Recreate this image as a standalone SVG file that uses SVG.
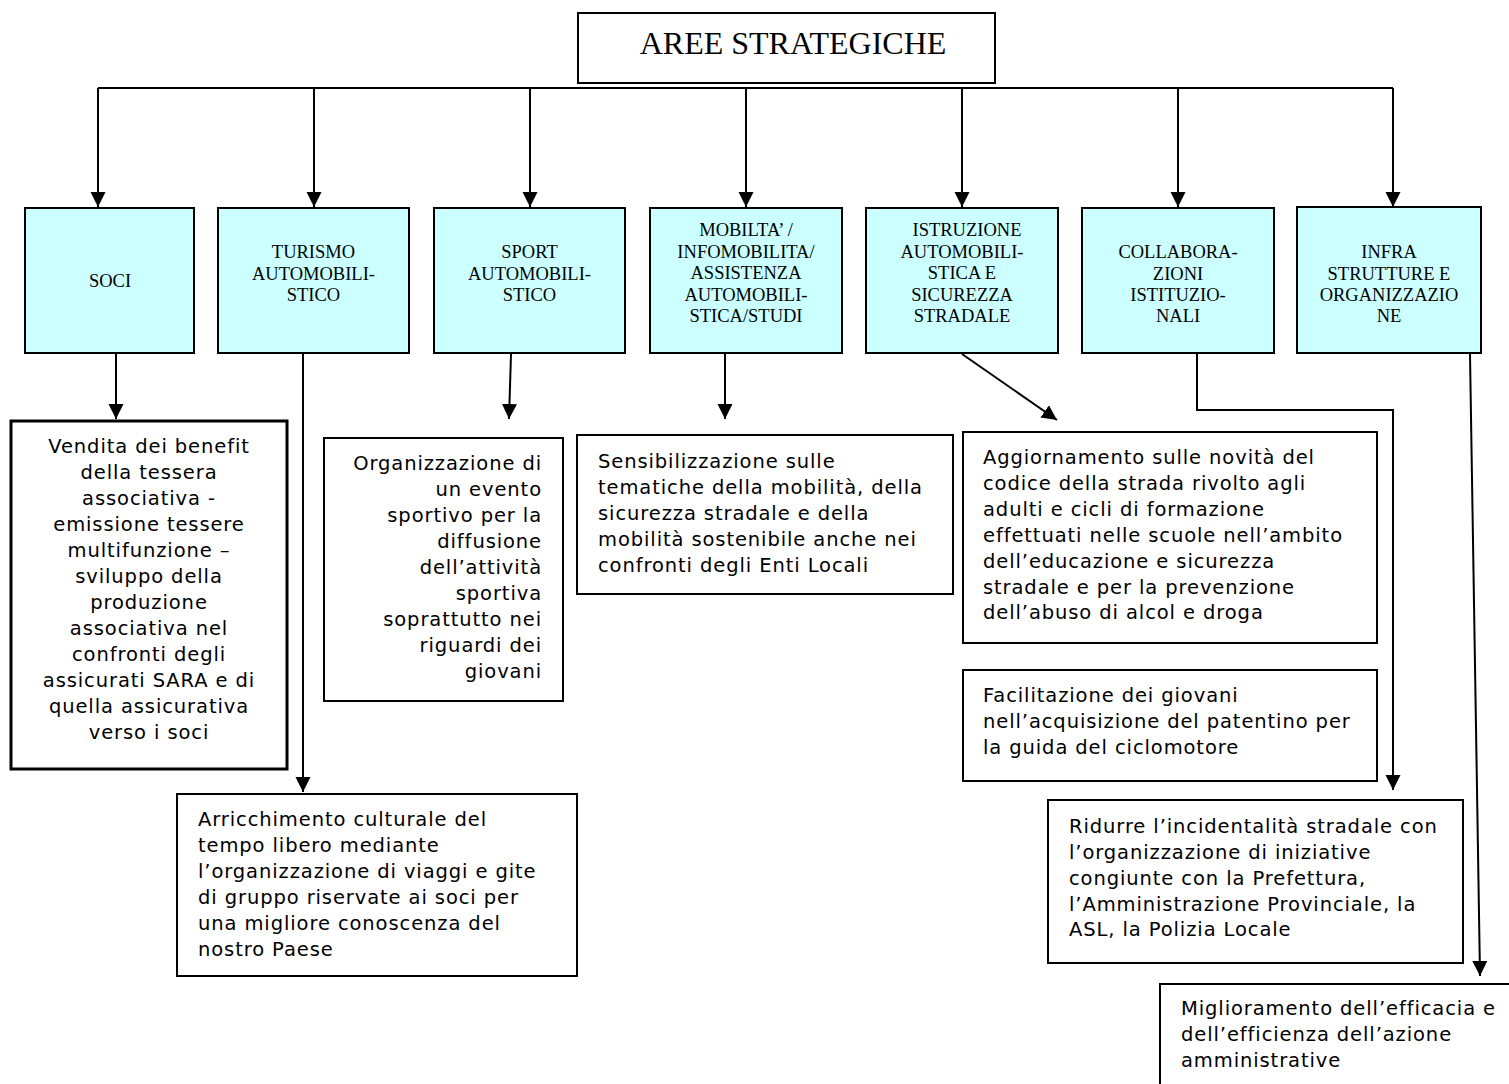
<svg xmlns="http://www.w3.org/2000/svg" width="1509" height="1084" viewBox="0 0 1509 1084">
<style>
.bg{fill:#ffffff}
.cat rect{fill:#ccffff;stroke:#000;stroke-width:2}
.cat text{font-family:"Liberation Serif","Times New Roman",serif;font-size:18.5px;fill:#000;text-anchor:middle}
.det rect{fill:#ffffff;stroke:#000;stroke-width:2}
.det text{font-family:"DejaVu Sans",Verdana,sans-serif;font-size:19.5px;letter-spacing:0.9px;fill:#000}
.top rect{fill:#ffffff;stroke:#000;stroke-width:2}
.top text{font-family:"Liberation Serif","Times New Roman",serif;font-size:32px;fill:#000;text-anchor:middle}
.conn{fill:none;stroke:#000;stroke-width:2}
</style>
<defs>
<marker id="ah" markerUnits="userSpaceOnUse" markerWidth="16" markerHeight="16" refX="15" refY="7.5" orient="auto">
<path d="M0,0 L15,7.5 L0,15 z" fill="#000"/>
</marker>
</defs>
<rect class="bg" x="0" y="0" width="1509" height="1084"/>

<g id="connectors" class="conn">
<line x1="98" y1="88" x2="1393" y2="88"/>
<line x1="98" y1="88" x2="98" y2="207" marker-end="url(#ah)"/>
<line x1="314" y1="88" x2="314" y2="207" marker-end="url(#ah)"/>
<line x1="530" y1="88" x2="530" y2="207" marker-end="url(#ah)"/>
<line x1="746" y1="88" x2="746" y2="207" marker-end="url(#ah)"/>
<line x1="962" y1="88" x2="962" y2="207" marker-end="url(#ah)"/>
<line x1="1178" y1="88" x2="1178" y2="207" marker-end="url(#ah)"/>
<line x1="1393" y1="88" x2="1393" y2="207" marker-end="url(#ah)"/>
<line x1="116" y1="354" x2="116" y2="419" marker-end="url(#ah)"/>
<line x1="303" y1="354" x2="303" y2="792" marker-end="url(#ah)"/>
<line x1="511" y1="354" x2="509" y2="419" marker-end="url(#ah)"/>
<line x1="725" y1="354" x2="725" y2="419" marker-end="url(#ah)"/>
<line x1="962" y1="354" x2="1057" y2="420" marker-end="url(#ah)"/>
<polyline points="1197,354 1197,410 1393,410 1393,790" marker-end="url(#ah)"/>
<line x1="1470" y1="354" x2="1480" y2="976" marker-end="url(#ah)"/>
</g>

<g id="aree-strategiche" class="top">
<rect x="578" y="13" width="417" height="70"/>
<text x="793" y="54">AREE STRATEGICHE</text>
</g>

<g id="soci" class="cat">
<rect x="25" y="208" width="169" height="145"/>
<text x="110" y="287">SOCI</text>
</g>
<g id="turismo" class="cat">
<rect x="218" y="208" width="191" height="145"/>
<text x="313.5" y="258">TURISMO</text>
<text x="313.5" y="279.5">AUTOMOBILI-</text>
<text x="313.5" y="301">STICO</text>
</g>
<g id="sport" class="cat">
<rect x="434" y="208" width="191" height="145"/>
<text x="529.5" y="258">SPORT</text>
<text x="529.5" y="279.5">AUTOMOBILI-</text>
<text x="529.5" y="301">STICO</text>
</g>
<g id="mobilita" class="cat">
<rect x="650" y="208" width="192" height="145"/>
<text x="746" y="236">MOBILTA’ /</text>
<text x="746" y="257.5">INFOMOBILITA/</text>
<text x="746" y="279">ASSISTENZA</text>
<text x="746" y="300.5">AUTOMOBILI-</text>
<text x="746" y="322">STICA/STUDI</text>
</g>
<g id="istruzione" class="cat">
<rect x="866" y="208" width="192" height="145"/>
<text x="967" y="236">ISTRUZIONE</text>
<text x="962" y="257.5">AUTOMOBILI-</text>
<text x="962" y="279">STICA E</text>
<text x="962" y="300.5">SICUREZZA</text>
<text x="962" y="322">STRADALE</text>
</g>
<g id="collaborazioni" class="cat">
<rect x="1082" y="208" width="192" height="145"/>
<text x="1178" y="258">COLLABORA-</text>
<text x="1178" y="279.5">ZIONI</text>
<text x="1178" y="301">ISTITUZIO-</text>
<text x="1178" y="322">NALI</text>
</g>
<g id="infrastrutture" class="cat">
<rect x="1297" y="207" width="184" height="146"/>
<text x="1389" y="258">INFRA</text>
<text x="1389" y="279.5">STRUTTURE  E</text>
<text x="1389" y="301">ORGANIZZAZIO</text>
<text x="1389" y="322">NE</text>
</g>

<g id="det-soci" class="det">
<rect x="11" y="421" width="276" height="348" style="stroke-width:3"/>
<g text-anchor="middle">
<text x="149" y="453">Vendita dei benefit</text>
<text x="149" y="479">della tessera</text>
<text x="149" y="505">associativa -</text>
<text x="149" y="531">emissione tessere</text>
<text x="149" y="557">multifunzione –</text>
<text x="149" y="583">sviluppo della</text>
<text x="149" y="609">produzione</text>
<text x="149" y="635">associativa nel</text>
<text x="149" y="661">confronti degli</text>
<text x="149" y="687">assicurati SARA e di</text>
<text x="149" y="713">quella assicurativa</text>
<text x="149" y="739">verso i soci</text>
</g>
</g>

<g id="det-sport" class="det">
<rect x="324" y="438" width="239" height="263"/>
<g text-anchor="end">
<text x="542" y="470">Organizzazione di</text>
<text x="542" y="496">un evento</text>
<text x="542" y="522">sportivo per la</text>
<text x="542" y="548">diffusione</text>
<text x="542" y="574">dell’attività</text>
<text x="542" y="600">sportiva</text>
<text x="542" y="626">soprattutto nei</text>
<text x="542" y="652">riguardi dei</text>
<text x="542" y="678">giovani</text>
</g>
</g>

<g id="det-mobilita" class="det">
<rect x="577" y="435" width="376" height="159"/>
<text x="598" y="468">Sensibilizzazione sulle</text>
<text x="598" y="494">tematiche della mobilità, della</text>
<text x="598" y="520">sicurezza stradale e della</text>
<text x="598" y="546">mobilità sostenibile anche nei</text>
<text x="598" y="572">confronti degli Enti Locali</text>
</g>

<g id="det-istruzione-1" class="det">
<rect x="963" y="432" width="414" height="211"/>
<text x="983" y="464">Aggiornamento sulle novità del</text>
<text x="983" y="490">codice della strada rivolto agli</text>
<text x="983" y="516">adulti e cicli di formazione</text>
<text x="983" y="542">effettuati nelle scuole nell’ambito</text>
<text x="983" y="568">dell’educazione e sicurezza</text>
<text x="983" y="594">stradale e per la prevenzione</text>
<text x="983" y="619">dell’abuso di alcol e droga</text>
</g>

<g id="det-istruzione-2" class="det">
<rect x="963" y="670" width="414" height="111"/>
<text x="983" y="702">Facilitazione dei giovani</text>
<text x="983" y="728">nell’acquisizione del patentino per</text>
<text x="983" y="754">la guida del ciclomotore</text>
</g>

<g id="det-turismo" class="det">
<rect x="177" y="794" width="400" height="182"/>
<text x="198" y="826">Arricchimento culturale del</text>
<text x="198" y="852">tempo libero mediante</text>
<text x="198" y="878">l’organizzazione di viaggi e gite</text>
<text x="198" y="904">di gruppo riservate ai soci per</text>
<text x="198" y="930">una migliore conoscenza del</text>
<text x="198" y="956">nostro Paese</text>
</g>

<g id="det-collaborazioni" class="det">
<rect x="1048" y="800" width="415" height="163"/>
<text x="1069" y="833">Ridurre l’incidentalità stradale con</text>
<text x="1069" y="859">l’organizzazione di iniziative</text>
<text x="1069" y="885">congiunte con la Prefettura,</text>
<text x="1069" y="911">l’Amministrazione Provinciale, la</text>
<text x="1069" y="936">ASL, la Polizia Locale</text>
</g>

<g id="det-infrastrutture" class="det">
<rect x="1160" y="984" width="360" height="120"/>
<text x="1181" y="1015">Miglioramento dell’efficacia e</text>
<text x="1181" y="1041">dell’efficienza dell’azione</text>
<text x="1181" y="1067">amministrative</text>
</g>
</svg>
